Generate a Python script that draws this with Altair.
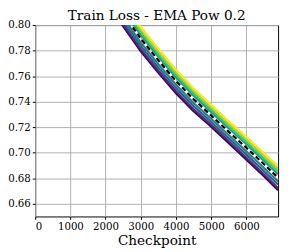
import altair as alt
import pandas as pd

checkpoints = [2000, 2500, 3000, 3500, 4000, 4500, 5000, 5500, 6000, 6500, 6900]

series_names = ["s0", "s1", "s2", "s3", "s4", "s5", "s6", "s7"]
series_colors = ["#440154", "#46327e", "#365c8d", "#277f8e",
                 "#1fa187", "#4ac16d", "#a0da39", "#fde725"]
series_values = [
    [0.8180, 0.7990, 0.7795, 0.7625, 0.7465, 0.7325, 0.7203, 0.7075, 0.6945, 0.6815, 0.6705],
    [0.8197, 0.8007, 0.7812, 0.7642, 0.7482, 0.7341, 0.7218, 0.7090, 0.6961, 0.6831, 0.6724],
    [0.8222, 0.8032, 0.7837, 0.7667, 0.7506, 0.7365, 0.7241, 0.7112, 0.6985, 0.6855, 0.6750],
    [0.8248, 0.8058, 0.7863, 0.7693, 0.7532, 0.7390, 0.7265, 0.7136, 0.7010, 0.6880, 0.6775],
    [0.8307, 0.8117, 0.7922, 0.7752, 0.7589, 0.7446, 0.7318, 0.7189, 0.7066, 0.6936, 0.6831],
    [0.8328, 0.8138, 0.7943, 0.7773, 0.7609, 0.7465, 0.7337, 0.7208, 0.7085, 0.6955, 0.6852],
    [0.8349, 0.8159, 0.7964, 0.7794, 0.7630, 0.7485, 0.7356, 0.7226, 0.7105, 0.6975, 0.6873],
    [0.8370, 0.8180, 0.7985, 0.7815, 0.7650, 0.7505, 0.7375, 0.7245, 0.7125, 0.6995, 0.6895],
]
mean_values = [0.8279, 0.8089, 0.7894, 0.7724, 0.7561, 0.7419, 0.7292, 0.7163, 0.7039, 0.6909, 0.6804]

x_ticks = [0, 1000, 2000, 3000, 4000, 5000, 6000]
y_ticks = [0.66, 0.68, 0.70, 0.72, 0.74, 0.76, 0.78, 0.80]

rows = []
for name, vals in zip(series_names, series_values):
    for c, v in zip(checkpoints, vals):
        rows.append({"checkpoint": c, "loss": v, "series": name})
df = pd.DataFrame(rows)
df_mean = pd.DataFrame({"checkpoint": checkpoints, "loss": mean_values})

FONT = "DejaVu Serif"

x_enc = alt.X("checkpoint:Q", title="Checkpoint",
              scale=alt.Scale(domain=[0, 6900], nice=False, zero=False),
              axis=alt.Axis(values=x_ticks, format="d"))
y_enc = alt.Y("loss:Q", title=None,
              scale=alt.Scale(domain=[0.65, 0.80], nice=False, zero=False),
              axis=alt.Axis(values=y_ticks, format=".2f"))

lines = alt.Chart(df).mark_line(strokeWidth=2.2, clip=True).encode(
    x=x_enc, y=y_enc,
    color=alt.Color("series:N", scale=alt.Scale(domain=series_names, range=series_colors), legend=None),
    order=alt.Order("checkpoint:Q"),
)
mean_line = alt.Chart(df_mean).mark_line(strokeWidth=2.2, color="black", strokeDash=[5, 3], clip=True).encode(
    x=x_enc, y=y_enc,
)

chart = alt.layer(lines, mean_line).properties(
    width=250, height=197,
    title=alt.TitleParams("Train Loss - EMA Pow 0.2", font=FONT, fontSize=14,
                          fontWeight="normal", color="black", offset=3, dy=6),
    autosize=alt.AutoSizeParams(type="none"),
    padding={"left": 28, "top": 14, "right": 3, "bottom": 34},
).configure_view(
    stroke="black", strokeWidth=1
).configure_axis(
    labelFont=FONT, labelFontSize=10.5, labelColor="black",
    titleFont=FONT, titleFontSize=14, titleFontWeight="normal", titleColor="black",
    domain=False, tickColor="black", tickSize=3, tickWidth=1, labelPadding=2,
    gridColor="#b0b0b0", gridWidth=1, gridOpacity=1,
).configure_axisX(titlePadding=2)

chart.save("out.html", embed_options={"renderer": "svg", "actions": False})
